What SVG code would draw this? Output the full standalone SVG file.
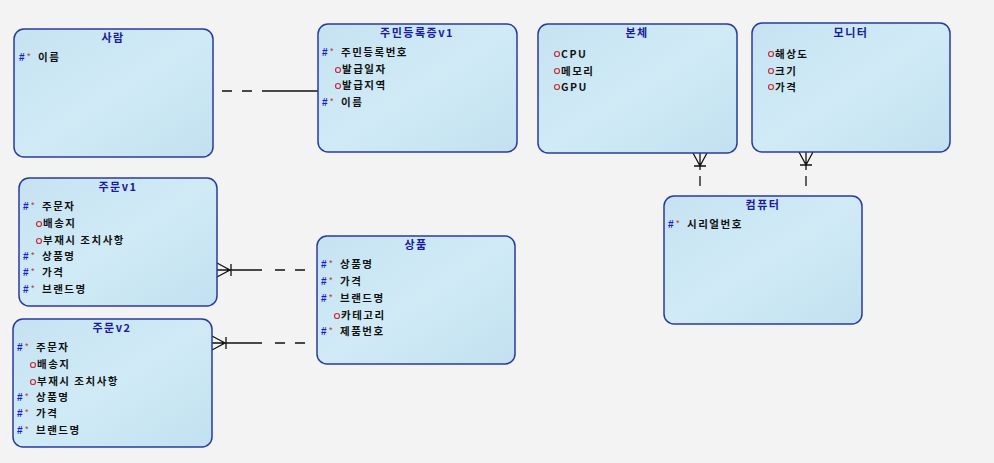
<svg xmlns="http://www.w3.org/2000/svg" width="994" height="463" viewBox="0 0 994 463">
<style>
.box{fill:url(#g);stroke:#2a3b9e;stroke-width:1.5}
.t{font-family:"Noto Sans CJK KR","Liberation Sans",sans-serif;font-size:11px;font-weight:bold;fill:#1a1a9a;text-anchor:middle;letter-spacing:1.5px}
.a{font-family:"Noto Sans CJK KR","Liberation Sans",sans-serif;font-size:10.5px;font-weight:bold;fill:#111;letter-spacing:1.5px}
.h{font-family:"Liberation Sans",sans-serif;font-size:10px;font-weight:bold;fill:#1a1ad0}
.s{font-family:"Liberation Sans",sans-serif;font-size:9px;fill:#c03040}
.o{fill:none;stroke:#c03040;stroke-width:1.2}
.ln{stroke:#111;stroke-width:1.3;fill:none}
.dl{stroke:#111;stroke-width:1.3;fill:none;stroke-dasharray:10 10}
</style>
<defs>
<linearGradient id="g" x1="0" y1="0" x2="1" y2="1">
<stop offset="0" stop-color="#c6e2f2"/>
<stop offset="0.5" stop-color="#d0ebf6"/>
<stop offset="1" stop-color="#c2e0f0"/>
</linearGradient>
</defs>
<rect width="994" height="463" fill="#f3f3f3"/>
<g id="connectors">
<path class="dl" d="M222 91H262"/>
<path class="ln" d="M262 91H318"/>
<path class="ln" d="M700 153V170M693 153L700 166L707 153M694 166H706"/>
<path class="ln" d="M700 176V186"/>
<path class="ln" d="M806 152V170M799 152L806 165L813 152M800 165H812"/>
<path class="ln" d="M806 176V186"/>
<path class="ln" d="M217 263L230 270L217 277M217 270H262M231 264V276"/>
<path class="dl" d="M275 270H310"/>
<path class="ln" d="M212 336L225 343L212 350M212 343H262M226 337V349"/>
<path class="dl" d="M275 343H310"/>
</g>
<g id="saram">
<rect class="box" x="14" y="29" width="199" height="128" rx="10"/>
<text class="t" x="113" y="42">사람</text>
<text class="h" x="19" y="61">#</text><text class="s" x="27" y="59">*</text><text class="a" x="38" y="61">이름</text>
</g>
<g id="jumin">
<rect class="box" x="318" y="24" width="199" height="128" rx="10"/>
<text class="t" x="417" y="37">주민등록증v1</text>
<text class="h" x="322" y="56">#</text><text class="s" x="330" y="54">*</text><text class="a" x="341" y="56">주민등록번호</text>
<circle class="o" cx="338" cy="70" r="2.5"/><text class="a" x="342" y="73">발급일자</text>
<circle class="o" cx="338" cy="86" r="2.5"/><text class="a" x="342" y="89">발급지역</text>
<text class="h" x="322" y="106">#</text><text class="s" x="330" y="104">*</text><text class="a" x="341" y="106">이름</text>
</g>
<g id="bonche">
<rect class="box" x="538" y="24" width="199" height="129" rx="10"/>
<text class="t" x="637" y="37">본체</text>
<circle class="o" cx="557" cy="54" r="2.5"/><text class="a" x="561" y="58">CPU</text>
<circle class="o" cx="557" cy="71" r="2.5"/><text class="a" x="561" y="75">메모리</text>
<circle class="o" cx="557" cy="87" r="2.5"/><text class="a" x="561" y="91">GPU</text>
</g>
<g id="monitor">
<rect class="box" x="752" y="23" width="198" height="129" rx="10"/>
<text class="t" x="851" y="37">모니터</text>
<circle class="o" cx="771" cy="54" r="2.5"/><text class="a" x="775" y="58">해상도</text>
<circle class="o" cx="771" cy="71" r="2.5"/><text class="a" x="775" y="75">크기</text>
<circle class="o" cx="771" cy="87" r="2.5"/><text class="a" x="775" y="91">가격</text>
</g>
<g id="computer">
<rect class="box" x="664" y="196" width="198" height="128" rx="10"/>
<text class="t" x="763" y="209">컴퓨터</text>
<text class="h" x="668" y="228">#</text><text class="s" x="676" y="226">*</text><text class="a" x="687" y="228">시리얼번호</text>
</g>
<g id="jumun1">
<rect class="box" x="19" y="178" width="198" height="128" rx="10"/>
<text class="t" x="118" y="191">주문v1</text>
<text class="h" x="23" y="210">#</text><text class="s" x="31" y="208">*</text><text class="a" x="42" y="210">주문자</text>
<circle class="o" cx="39" cy="224" r="2.5"/><text class="a" x="43" y="227">배송지</text>
<circle class="o" cx="39" cy="241" r="2.5"/><text class="a" x="43" y="244">부재시 조치사항</text>
<text class="h" x="23" y="260">#</text><text class="s" x="31" y="258">*</text><text class="a" x="42" y="260">상품명</text>
<text class="h" x="23" y="276">#</text><text class="s" x="31" y="274">*</text><text class="a" x="42" y="276">가격</text>
<text class="h" x="23" y="293">#</text><text class="s" x="31" y="291">*</text><text class="a" x="42" y="293">브랜드명</text>
</g>
<g id="jumun2">
<rect class="box" x="13" y="319" width="199" height="128" rx="10"/>
<text class="t" x="112" y="332">주문v2</text>
<text class="h" x="17" y="351">#</text><text class="s" x="25" y="349">*</text><text class="a" x="36" y="351">주문자</text>
<circle class="o" cx="33" cy="365" r="2.5"/><text class="a" x="37" y="368">배송지</text>
<circle class="o" cx="33" cy="382" r="2.5"/><text class="a" x="37" y="385">부재시 조치사항</text>
<text class="h" x="17" y="401">#</text><text class="s" x="25" y="399">*</text><text class="a" x="36" y="401">상품명</text>
<text class="h" x="17" y="417">#</text><text class="s" x="25" y="415">*</text><text class="a" x="36" y="417">가격</text>
<text class="h" x="17" y="434">#</text><text class="s" x="25" y="432">*</text><text class="a" x="36" y="434">브랜드명</text>
</g>
<g id="sangpum">
<rect class="box" x="317" y="236" width="198" height="128" rx="10"/>
<text class="t" x="416" y="249">상품</text>
<text class="h" x="321" y="268">#</text><text class="s" x="329" y="266">*</text><text class="a" x="340" y="268">상품명</text>
<text class="h" x="321" y="285">#</text><text class="s" x="329" y="283">*</text><text class="a" x="340" y="285">가격</text>
<text class="h" x="321" y="302">#</text><text class="s" x="329" y="300">*</text><text class="a" x="340" y="302">브랜드명</text>
<circle class="o" cx="337" cy="316" r="2.5"/><text class="a" x="341" y="319">카테고리</text>
<text class="h" x="321" y="335">#</text><text class="s" x="329" y="333">*</text><text class="a" x="340" y="335">제품번호</text>
</g>
</svg>
